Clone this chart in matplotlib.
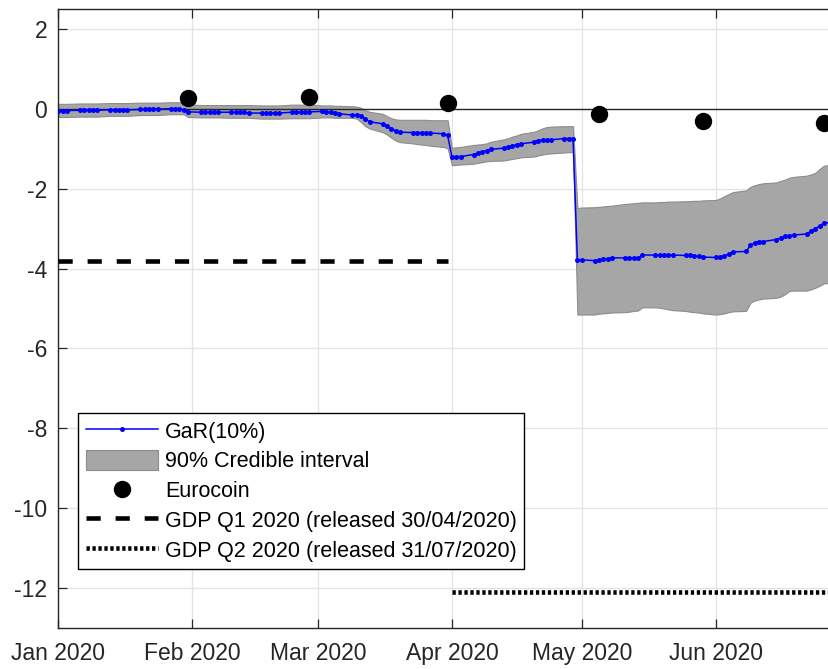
import numpy as np
import pandas as pd
import matplotlib
matplotlib.use('Agg')
import matplotlib.pyplot as plt

plt.rcParams['font.family'] = ['Liberation Sans', 'DejaVu Sans']
plt.rcParams['axes.unicode_minus'] = False

# daily (business day) nowcast, Jan-Jun 2020
dates = pd.bdate_range('2020-01-01', '2020-06-30')

gar = [
    -0.04, -0.04, -0.04,
    -0.03, -0.03, -0.03, -0.03, -0.03,
    -0.02, -0.02, -0.02, -0.02, -0.02,
    -0.01, -0.01, -0.01, 0.00, 0.00,
    0.01, 0.01, 0.01, -0.02, -0.07,
    # Feb
    -0.08, -0.08, -0.08, -0.08, -0.08,
    -0.08, -0.08, -0.08, -0.08, -0.10,
    -0.10, -0.10, -0.10, -0.10, -0.10,
    -0.08, -0.08, -0.08, -0.08, -0.07,
    # Mar
    -0.06, -0.07, -0.08, -0.10, -0.12,
    -0.15, -0.14, -0.18, -0.25, -0.32,
    -0.37, -0.43, -0.49, -0.55, -0.58,
    -0.59, -0.59, -0.59, -0.59, -0.60,
    -0.62, -0.66,
    # Apr
    -1.20, -1.19, -1.19,
    -1.14, -1.11, -1.08, -1.04, -1.01,
    -0.98, -0.95, -0.92, -0.89, -0.87,
    -0.83, -0.79, -0.77, -0.77, -0.77,
    -0.74, -0.74, -0.74, -3.78,
    # May
    -3.78,
    -3.80, -3.79, -3.77, -3.75, -3.73,
    -3.73, -3.73, -3.73, -3.73, -3.66,
    -3.66, -3.66, -3.66, -3.66, -3.66,
    -3.67, -3.67, -3.68, -3.69, -3.71,
    # Jun
    -3.72, -3.71, -3.68, -3.63, -3.58,
    -3.57, -3.42, -3.35, -3.32, -3.32,
    -3.27, -3.23, -3.19, -3.17, -3.16,
    -3.13, -3.06, -3.00, -2.93, -2.86,
    -2.82, -2.80,
]

ci_high = [
    0.13, 0.13, 0.13,
    0.14, 0.14, 0.14, 0.14, 0.14,
    0.15, 0.15, 0.15, 0.15, 0.15,
    0.16, 0.16, 0.16, 0.16, 0.16,
    0.17, 0.17, 0.17, 0.16, 0.12,
    # Feb
    0.10, 0.10, 0.10, 0.10, 0.10,
    0.10, 0.10, 0.10, 0.10, 0.10,
    0.09, 0.09, 0.09, 0.09, 0.09,
    0.11, 0.11, 0.11, 0.11, 0.11,
    # Mar
    0.09, 0.09, 0.09, 0.08, 0.08,
    0.07, 0.06, 0.03, -0.03, -0.07,
    -0.12, -0.18, -0.23, -0.26, -0.27,
    -0.27, -0.27, -0.27, -0.27, -0.28,
    -0.28, -0.28,
    # Apr
    -0.97, -0.96, -0.95,
    -0.90, -0.89, -0.88, -0.86, -0.82,
    -0.76, -0.73, -0.69, -0.66, -0.62,
    -0.57, -0.53, -0.48, -0.45, -0.44,
    -0.43, -0.43, -0.43, -2.48,
    # May
    -2.47,
    -2.46, -2.45, -2.44, -2.43, -2.42,
    -2.38, -2.37, -2.36, -2.35, -2.34,
    -2.34, -2.33, -2.33, -2.32, -2.32,
    -2.31, -2.31, -2.30, -2.30, -2.29,
    # Jun
    -2.28, -2.24, -2.18, -2.13, -2.08,
    -2.04, -1.95, -1.91, -1.88, -1.86,
    -1.84, -1.80, -1.77, -1.72, -1.70,
    -1.67, -1.64, -1.60, -1.50, -1.42,
    -1.37, -1.35,
]

ci_low = [
    -0.20, -0.20, -0.20,
    -0.19, -0.19, -0.19, -0.19, -0.19,
    -0.17, -0.17, -0.17, -0.17, -0.17,
    -0.15, -0.15, -0.15, -0.15, -0.15,
    -0.13, -0.13, -0.13, -0.13, -0.20,
    # Feb
    -0.21, -0.21, -0.21, -0.21, -0.21,
    -0.22, -0.22, -0.22, -0.22, -0.22,
    -0.24, -0.24, -0.24, -0.24, -0.24,
    -0.23, -0.23, -0.23, -0.23, -0.23,
    # Mar
    -0.21, -0.21, -0.21, -0.22, -0.22,
    -0.22, -0.24, -0.33, -0.43, -0.49,
    -0.58, -0.64, -0.72, -0.79, -0.83,
    -0.86, -0.88, -0.89, -0.90, -0.92,
    -0.95, -0.98,
    # Apr
    -1.41, -1.40, -1.39,
    -1.37, -1.35, -1.33, -1.31, -1.30,
    -1.29, -1.27, -1.25, -1.23, -1.21,
    -1.19, -1.16, -1.14, -1.12, -1.11,
    -1.09, -1.08, -1.08, -5.15,
    # May
    -5.15,
    -5.15, -5.13, -5.12, -5.11, -5.10,
    -5.09, -5.08, -5.06, -5.05, -4.97,
    -4.97, -4.98, -5.00, -5.02, -5.04,
    -5.06, -5.08, -5.09, -5.10, -5.12,
    # Jun
    -5.15, -5.14, -5.12, -5.09, -5.07,
    -5.06, -4.85, -4.80, -4.77, -4.75,
    -4.73, -4.70, -4.64, -4.56, -4.55,
    -4.55, -4.52, -4.48, -4.43, -4.37,
    -4.34, -4.32,
]

eurocoin_dates = pd.to_datetime(['2020-01-31', '2020-02-28', '2020-03-31',
                                 '2020-05-05', '2020-05-29', '2020-06-26'])
eurocoin = [0.28, 0.30, 0.15, -0.12, -0.30, -0.36]

gdp_q1_dates = pd.to_datetime(['2020-01-01', '2020-03-31'])
gdp_q1 = [-3.8, -3.8]
gdp_q2_dates = pd.to_datetime(['2020-04-01', '2020-06-30'])
gdp_q2 = [-12.1, -12.1]

month_ticks = pd.date_range('2020-01-01', '2020-06-01', freq='MS')
y_ticks = np.arange(-12, 3, 2)

fig = plt.figure(figsize=(8.29, 6.69), dpi=100)
# right edge of the axes sits just past the figure border
ax = fig.add_axes([0.0703, 0.0617, 0.9445, 0.9244])

axcol = '#262626'

ax.fill_between(dates, ci_low, ci_high, facecolor='#a6a6a6', edgecolor='#8c8c8c',
                linewidth=0.8, label='90% Credible interval', zorder=2)
ax.axhline(0, color=axcol, linewidth=1.0, zorder=3)
ax.plot(dates, gar, color='#0000ff', linewidth=1.1, marker='o', markersize=3.6,
        markeredgewidth=0, label='GaR(10%)', zorder=4)
ax.plot(eurocoin_dates, eurocoin, linestyle='none', marker='o', markersize=11.5,
        color='black', label='Eurocoin', zorder=5)
ax.plot(gdp_q1_dates, gdp_q1, color='black', linewidth=3.3,
        linestyle=(0, (3.1, 3.25)), dash_capstyle='butt',
        label='GDP Q1 2020 (released 30/04/2020)', zorder=3)
ax.plot(gdp_q2_dates, gdp_q2, color='black', linewidth=3.3,
        linestyle=(0, (0.72, 0.58)), dash_capstyle='butt',
        label='GDP Q2 2020 (released 31/07/2020)', zorder=3)

ax.set_xlim(pd.Timestamp('2020-01-01'), pd.Timestamp('2020-06-30'))
ax.set_ylim(-13, 2.5)
ax.set_xticks(month_ticks)
ax.set_xticklabels([d.strftime('%b %Y') for d in month_ticks])
ax.set_yticks(y_ticks)
ax.set_yticklabels([str(v) for v in y_ticks])

ax.grid(True, color='#e3e3e3', linewidth=0.9, zorder=0)
ax.set_axisbelow(True)
for s in ax.spines.values():
    s.set_color(axcol)
    s.set_linewidth(1.0)
ax.tick_params(direction='in', length=6.5, width=0.9, color=axcol,
               labelcolor=axcol, labelsize=16.5, top=True, right=True)
ax.tick_params(axis='x', pad=10)
ax.tick_params(axis='y', pad=8)

h, l = ax.get_legend_handles_labels()
order = [1, 0, 2, 3, 4]
leg = ax.legend([h[i] for i in order], [l[i] for i in order],
                loc='lower left', bbox_to_anchor=(0.0255, 0.0944),
                borderaxespad=0, fontsize=15.5, handlelength=3.35,
                handletextpad=0.31, handleheight=1.0, labelspacing=0.36,
                borderpad=0.36, fancybox=False, framealpha=1,
                edgecolor='black', numpoints=1)
leg.get_frame().set_linewidth(1.0)

fig.savefig('out.png', dpi=100)
